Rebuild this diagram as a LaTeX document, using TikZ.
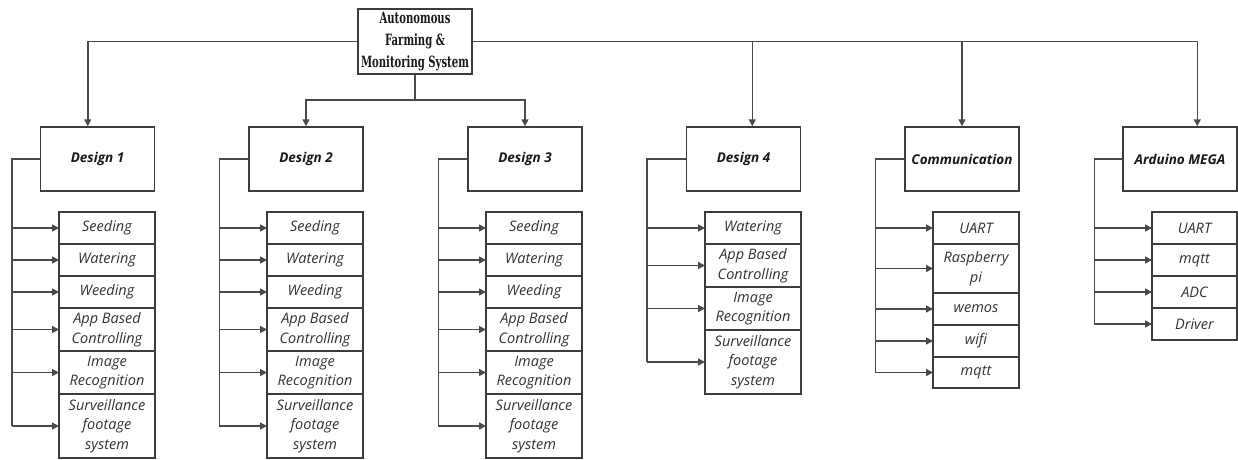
\documentclass[tikz,border=0pt]{standalone}
\usepackage{fontspec}
\usetikzlibrary{arrows.meta,calc}
\newfontfamily\casualfont{Open Sans}
\newfontfamily\slabfont[FakeStretch=0.65]{DejaVu Serif}
\definecolor{linegray}{HTML}{4A4A4A}
\definecolor{boxgray}{HTML}{3C3C3C}
\definecolor{labelgray}{HTML}{333333}

% A column of stacked sub-item boxes hanging below a group box.
% #1 prefix, #2 x centre, #3 box width, #4 list of height/label
\newcommand\itemstack[4]{%
  \node[inner sep=0pt, outer sep=0pt, minimum size=0pt] (#1-0) at (#2,212) {};
  \foreach \h/\t [count=\i, remember=\i as \j (initially 0)] in {#4} {
    \node[itembox=#3, minimum height=\h pt] (#1-\i) at (#1-\j.south) {\t};
  }%
}
% Bus line from the left side of a group box feeding each sub-item.
% #1 group node, #2 prefix, #3 number of items, #4 bus offset
\newcommand\itembus[4]{%
  \draw[conn] (#1.west) -- ++(-#4,0) coordinate (#2-bus) -- (#2-bus |- #2-#3.west);
  \foreach \k in {1,...,#3} { \draw[arr] (#2-bus |- #2-\k.west) -- (#2-\k.west); }%
}

\begin{document}
\begin{tikzpicture}[x=1pt,y=-1pt,
  line width=1.5pt,
  conn/.style={draw=linegray},
  arr/.style={conn,-{Triangle[length=7pt,width=7pt]}},
  rootbox/.style={draw=boxgray, minimum width=114pt, minimum height=65pt,
    inner sep=0pt, align=center, text=black!90,
    font=\slabfont\bfseries\fontsize{15.5}{22}\selectfont},
  groupbox/.style={draw=boxgray, minimum width=114pt, minimum height=64pt,
    inner sep=0pt, text=black!90,
    font=\casualfont\bfseries\itshape\fontsize{13.5}{16}\selectfont},
  itembox/.style={draw=boxgray, minimum width=#1, inner sep=0pt, outer sep=0pt,
    align=center, anchor=north, text=labelgray,
    font=\casualfont\itshape\fontsize{14.5}{19.5}\selectfont},
]
\fill[white] (0,0) rectangle (1238,459);
\useasboundingbox (0,0) rectangle (1238,459);

% top of the hierarchy
\node[rootbox] (root) at (415,41.5) {Autonomous\\Farming \&\\Monitoring System};

% group boxes
\node[groupbox] (d1)   at (97.5,159)  {Design 1};
\node[groupbox] (d2)   at (306,159)   {Design 2};
\node[groupbox] (d3)   at (525,159)   {Design 3};
\node[groupbox] (d4)   at (743.5,159) {Design 4};
\node[groupbox] (comm) at (962,159)   {Communication};
\node[groupbox] (ard)  at (1180,159)  {Arduino MEGA};

% sub-items
\itemstack{a}{107}{96pt}{32/Seeding, 32/Watering, 32/Weeding, 43/{App Based\\Controlling}, 43/{Image\\Recognition}, 64/{Surveillance\\footage\\system}}
\itemstack{b}{315}{96pt}{32/Seeding, 32/Watering, 32/Weeding, 43/{App Based\\Controlling}, 43/{Image\\Recognition}, 64/{Surveillance\\footage\\system}}
\itemstack{c}{534}{96pt}{32/Seeding, 32/Watering, 32/Weeding, 43/{App Based\\Controlling}, 43/{Image\\Recognition}, 64/{Surveillance\\footage\\system}}
\itemstack{e}{753}{96pt}{32/Watering, 43/{App Based\\Controlling}, 43/{Image\\Recognition}, 64/{Surveillance\\footage\\system}}
\itemstack{f}{976}{86pt}{32/UART, 49/{Raspberry\\pi}, 32/wemos, 32/wifi, 31/mqtt}
\itemstack{g}{1194.5}{85pt}{32/UART, 32/mqtt, 32/ADC, 32/Driver}

\itembus{d1}{a}{6}{28}
\itembus{d2}{b}{6}{29}
\itembus{d3}{c}{6}{29}
\itembus{d4}{e}{4}{39}
\itembus{comm}{f}{5}{29}
\itembus{ard}{g}{4}{28}

% connectors from the top box
\coordinate (d1in)  at ($(d1.north west)+(48,0)$);
\coordinate (d4in)  at ($(d4.north west)+(66.5,0)$);
\coordinate (ardin) at ($(ard.north west)+(75,0)$);
\draw[arr] (root.west) -| (d1in);
\draw[arr] (root.east) -| (ardin);
\draw[arr] (d4in |- root.east) -- (d4in);
\draw[arr] (comm.north |- root.east) -- (comm.north);
\draw[conn] (root.south) -- ++(0,25) coordinate (split);
\draw[arr] (split) -| (d2.north);
\draw[arr] (split) -| (d3.north);
\end{tikzpicture}
\end{document}
